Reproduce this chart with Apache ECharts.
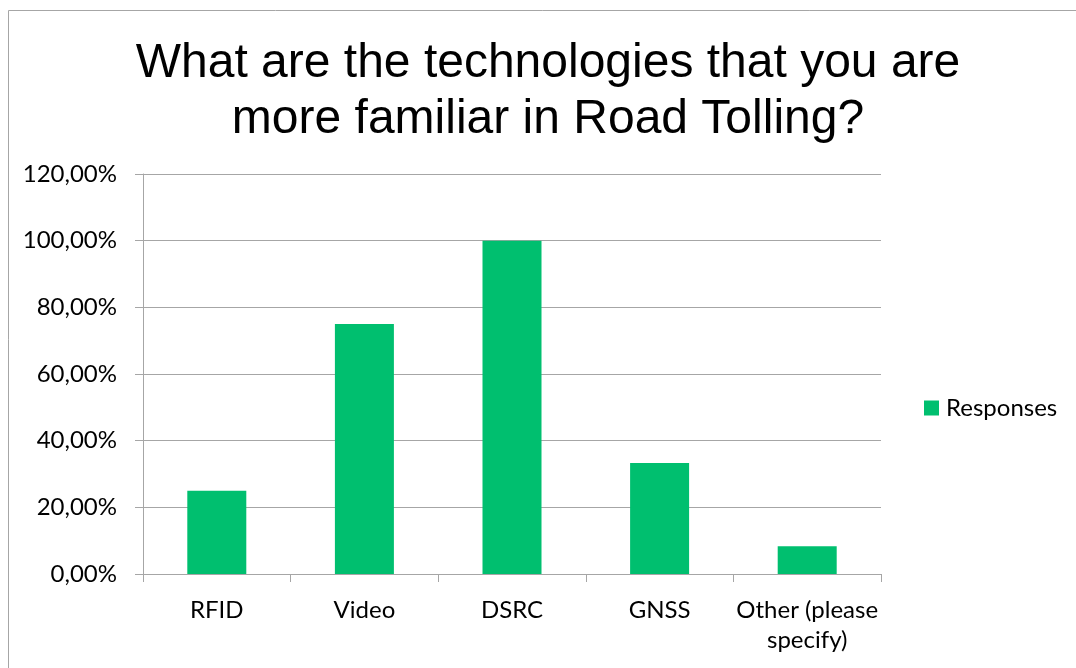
<!DOCTYPE html>
<html>
<head>
<meta charset="utf-8">
<script src="https://cdn.jsdelivr.net/npm/echarts@6/dist/echarts.min.js"></script>
<style>
  html, body { margin: 0; padding: 0; background: #fff; }
  #chart { width: 1076px; height: 668px; }
</style>
</head>
<body>
<div id="chart"></div>
<script>
// Survey answers: share of respondents familiar with each tolling technology (%)
const categories = ['RFID', 'Video', 'DSRC', 'GNSS', 'Other (please\nspecify)'];
const responses = [25, 75, 100, 33.33, 8.33];
const seriesName = 'Responses';
const titleText = 'What are the technologies that you are\nmore familiar in Road Tolling?';

const chart = echarts.init(document.getElementById('chart'), null, { renderer: 'canvas' });
const labelFont = 'Lato, "Open Sans", sans-serif';

chart.setOption({
  animation: false,
  backgroundColor: '#ffffff',
  graphic: [{
    type: 'rect',
    shape: { x: 8.5, y: 10.5, width: 1200, height: 800 },
    style: { fill: 'none', stroke: '#a6a6a6', lineWidth: 1 },
    silent: true
  }],
  title: {
    text: titleText,
    left: 543,
    textAlign: 'center',
    top: 31,
    textStyle: {
      fontFamily: '"Liberation Sans", Arial, sans-serif',
      fontWeight: 'normal',
      fontSize: 48,
      lineHeight: 56,
      color: '#000'
    }
  },
  legend: {
    data: [seriesName],
    left: 924,
    top: 396,
    padding: 0,
    icon: 'rect',
    itemWidth: 15,
    itemHeight: 15,
    itemGap: 8,
    textStyle: { fontFamily: labelFont, fontSize: 24, color: '#000', padding: [0, 0, 0, 2] }
  },
  grid: { left: 143, right: 195, top: 174, bottom: 94, containLabel: false },
  xAxis: {
    type: 'category',
    data: categories,
    axisLine: { show: true, lineStyle: { color: '#a6a6a6', width: 1 } },
    axisTick: { show: true, length: 8, alignWithLabel: false, lineStyle: { color: '#a6a6a6' } },
    axisLabel: {
      fontFamily: labelFont, fontSize: 24, color: '#000',
      margin: 21, lineHeight: 30, interval: 0
    },
    splitLine: { show: false }
  },
  yAxis: {
    type: 'value',
    min: 0,
    max: 120,
    interval: 20,
    axisLine: { show: true, lineStyle: { color: '#a6a6a6', width: 1 } },
    axisTick: { show: true, length: 8, lineStyle: { color: '#a6a6a6' } },
    axisLabel: {
      fontFamily: labelFont, fontSize: 24, color: '#000', margin: 26,
      formatter: v => v.toFixed(2).replace('.', ',') + '%'
    },
    splitLine: { show: true, lineStyle: { color: '#a6a6a6', width: 1 } }
  },
  series: [{
    name: seriesName,
    type: 'bar',
    data: responses,
    barWidth: 59,
    itemStyle: { color: '#00bf6f' }
  }]
});
</script>
</body>
</html>
